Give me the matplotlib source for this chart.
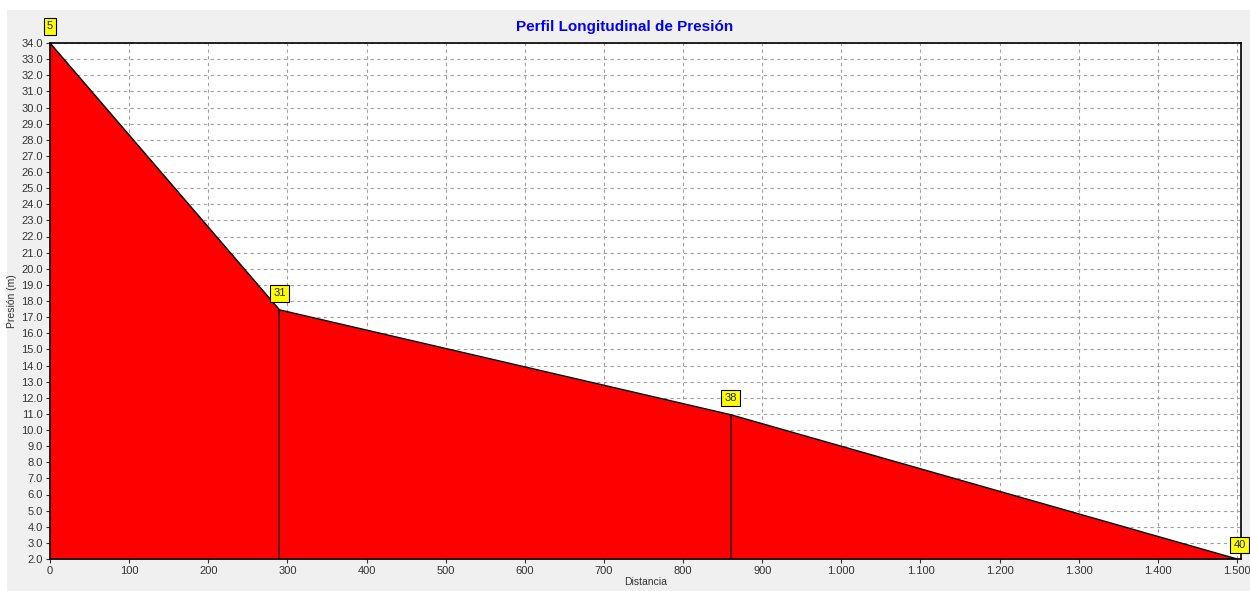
import matplotlib
matplotlib.use('Agg')
import matplotlib.pyplot as plt
from matplotlib.patches import Rectangle
from matplotlib.ticker import FuncFormatter, MultipleLocator

# profile data
distancia = [0, 290, 860, 1500]
presion = [34.0, 17.45, 10.95, 2.0]
nodos = ['5', '31', '38', '40']

plt.rcParams['font.family'] = ['Liberation Sans', 'DejaVu Sans']

fig = plt.figure(figsize=(12.5, 5.91), dpi=100)
fig.patch.set_facecolor('white')
fig.patches.append(Rectangle((7 / 1250, 0), 1, 1 - 10 / 591, transform=fig.transFigure,
                             facecolor='#f0f0f0', edgecolor='none', zorder=-10))

ax = fig.add_axes([50 / 1250, 1 - 559 / 591, (1241 - 50) / 1250, (559 - 43) / 591])
ax.set_facecolor('white')

ax.fill_between(distancia, presion, 2.0, color='#ff0000', linewidth=0, zorder=2)
ax.plot(distancia, presion, color='black', linewidth=1.0, zorder=3)
for d, p in zip(distancia[1:-1], presion[1:-1]):
    ax.plot([d, d], [2.0, p], color='#400000', linewidth=1.2, zorder=3)

for i, (d, p, n) in enumerate(zip(distancia, presion, nodos)):
    off = (2, 10) if i == len(nodos) - 1 else (0, 12)
    ax.annotate(n, (d, p), xytext=off, textcoords='offset points', ha='center', va='center',
                fontsize=8, color='#222222',
                bbox=dict(boxstyle='square,pad=0.3', facecolor='#ffff00',
                          edgecolor='black', linewidth=0.8),
                annotation_clip=False, zorder=5)

ax.set_xlim(0, 1505)
ax.set_ylim(2.0, 34.0)
ax.xaxis.set_major_locator(MultipleLocator(100))
ax.yaxis.set_major_locator(MultipleLocator(1))
ax.xaxis.set_major_formatter(FuncFormatter(lambda v, _: f'{int(v):,}'.replace(',', '.')))
ax.yaxis.set_major_formatter(FuncFormatter(lambda v, _: f'{v:.1f}'))
ax.tick_params(labelsize=8, length=3, colors='#333333', labelcolor='#333333', pad=2)
ax.grid(True, color='#a0a0a0', linestyle=(0, (3, 3)), linewidth=0.8, zorder=1)
ax.set_axisbelow(True)
for s in ax.spines.values():
    s.set_linewidth(1.2)
    s.set_color('black')

ax.set_title('Perfil Longitudinal de Presión', color='#0000ff', fontweight='bold',
             fontsize=11, pad=9, x=(625 - 50) / 1191)
ax.set_xlabel('Distancia', fontsize=7.5, labelpad=1, color='#333333')
ax.set_ylabel('Presión (m)', fontsize=7.5, labelpad=3, color='#333333')

fig.savefig('out.png', dpi=100)
